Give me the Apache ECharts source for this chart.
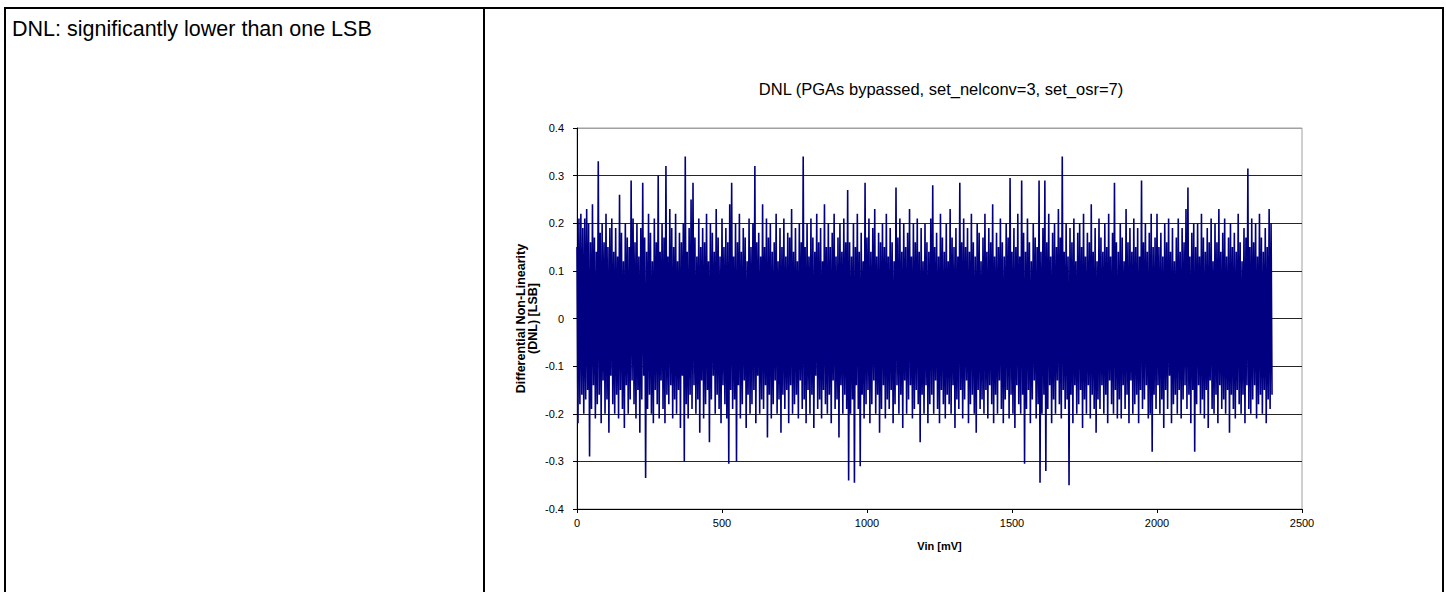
<!DOCTYPE html>
<html>
<head>
<meta charset="utf-8">
<script src="https://cdn.jsdelivr.net/npm/echarts@6/dist/echarts.min.js"></script>
<style>
  html, body { margin: 0; padding: 0; background: #fff; }
  body { width: 1446px; height: 592px; position: relative; overflow: hidden; font-family: "Liberation Sans", Arial, sans-serif; }
  #frame { position: absolute; left: 4px; top: 7px; width: 1436px; height: 600px; border: 2px solid #000; border-bottom: none; }
  #divider { position: absolute; left: 483px; top: 7px; width: 2px; height: 590px; background: #000; }
  #note { position: absolute; left: 12px; top: 19px; font-size: 21.5px; line-height: 1; color: #000; white-space: nowrap; }
  #chart { position: absolute; left: 0; top: 0; width: 1446px; height: 592px; }
</style>
</head>
<body>
<div id="frame"></div>
<div id="divider"></div>
<div id="note">DNL: significantly lower than one LSB</div>
<div id="chart"></div>
<script>
// ---- data ----
const chartTitle = "DNL (PGAs bypassed, set_nelconv=3, set_osr=7)";
const xAxisName = "Vin [mV]";
const yAxisName = "Differential Non-Linearity\n(DNL) [LSB]";
const xTicks = [0, 500, 1000, 1500, 2000, 2500];
const yTicks = [-0.4, -0.3, -0.2, -0.1, 0, 0.1, 0.2, 0.3, 0.4];
const vinStartMv = 0;
const vinEndMv = 2400;
// DNL per code in LSB, sampled evenly from vinStartMv to vinEndMv
const dnl = [
.15,-.22,.21,-.18,.22,-.16,.19,-.2,.21,-.17,.23,-.15,.2,-.29,.16,-.19,.24,-.14,.17,-.21,
.14,-.18,.33,-.16,.18,-.22,.2,-.13,.16,-.2,.22,-.17,.15,-.24,.19,-.12,.21,-.18,.14,-.2,
.19,-.16,.13,-.21,.26,-.15,.18,-.19,.12,-.23,.2,-.14,.17,-.2,.15,-.17,.29,-.13,.21,-.18,
.16,-.21,.2,-.15,.13,-.24,.19,-.17,.285,-.12,.17,-.335,.14,-.19,.22,-.16,.18,-.2,.12,-.22,
.21,-.15,.16,-.18,.3,-.21,.14,-.13,.2,-.19,.17,-.22,.32,-.16,.13,-.18,.23,-.14,.19,-.21,
.15,-.17,.22,-.2,.12,-.15,.18,-.23,.16,-.12,.2,-.3,.34,-.18,.14,-.21,.19,-.16,.25,-.19,
.285,-.14,.17,-.2,.13,-.17,.21,-.24,.15,-.13,.19,-.21,.16,-.18,.22,-.15,.12,-.26,.2,-.17,
.18,-.12,.14,-.2,.23,-.16,.17,-.19,.13,-.22,.21,-.14,.15,-.18,.19,-.21,.16,-.305,.24,-.15,
.285,-.19,.13,-.17,.2,-.3,.16,-.14,.22,-.21,.14,-.18,.19,-.13,.17,-.23,.12,-.16,.21,-.2,
.15,-.18,.2,-.15,.32,-.22,.16,-.12,.18,-.2,.13,-.17,.24,-.19,.15,-.14,.21,-.25,.17,-.16,
.2,-.21,.14,-.18,.16,-.13,.22,-.2,.12,-.17,.19,-.24,.15,-.16,.21,-.19,.13,-.15,.18,-.22,
.17,-.14,.23,-.2,.14,-.18,.19,-.16,.12,-.21,.2,-.13,.16,-.19,.34,-.17,.15,-.22,.2,-.15,
.13,-.2,.21,-.16,.17,-.23,.14,-.12,.22,-.19,.16,-.17,.19,-.21,.12,-.15,.24,-.18,.15,-.2,
.2,-.16,.15,-.22,.18,-.13,.22,-.19,.13,-.17,.17,-.25,.2,-.14,.14,-.2,.21,-.16,.16,-.19,
.27,-.34,.16,-.2,.13,-.17,.2,-.345,.15,-.14,.22,-.19,.14,-.31,.18,-.16,.12,-.21,.285,-.18,
.17,-.15,.21,-.22,.14,-.18,.19,-.13,.23,-.2,.13,-.16,.18,-.24,.16,-.19,.2,-.14,.15,-.21,
.22,-.17,.13,-.19,.19,-.15,.16,-.22,.12,-.18,.275,-.14,.17,-.2,.21,-.16,.14,-.23,.2,-.13,
.15,-.2,.18,-.17,.23,-.14,.13,-.21,.2,-.19,.16,-.15,.21,-.18,.14,-.26,.19,-.16,.12,-.2,
.2,-.14,.16,-.22,.14,-.18,.21,-.16,.28,-.2,.15,-.13,.18,-.19,.13,-.22,.22,-.15,.17,-.18,
.14,-.21,.2,-.16,.12,-.18,.23,-.2,.17,-.14,.15,-.23,.19,-.17,.13,-.19,.285,-.15,.16,-.21,
.21,-.17,.15,-.13,.19,-.22,.14,-.18,.22,-.16,.16,-.2,.13,-.24,.2,-.15,.18,-.19,.12,-.17,
.17,-.2,.22,-.15,.14,-.21,.19,-.14,.16,-.18,.24,-.22,.13,-.16,.18,-.2,.15,-.13,.21,-.19,
.16,-.22,.13,-.17,.2,-.15,.17,-.21,.295,-.16,.14,-.2,.19,-.23,.15,-.14,.22,-.18,.13,-.2,
.29,-.16,.18,-.305,.14,-.19,.21,-.15,.16,-.22,.12,-.17,.2,-.13,.17,-.21,.15,-.18,.29,-.345,
.14,-.2,.19,-.16,.29,-.32,.16,-.19,.22,-.14,.13,-.22,.18,-.17,.2,-.2,.15,-.13,.23,-.18,
.17,-.21,.34,-.15,.14,-.19,.2,-.17,.13,-.35,.19,-.16,.16,-.22,.21,-.14,.12,-.2,.18,-.18,
.2,-.15,.15,-.23,.22,-.17,.13,-.2,.18,-.14,.16,-.21,.24,-.16,.14,-.19,.19,-.24,.12,-.17,
.21,-.19,.17,-.14,.14,-.2,.2,-.16,.15,-.22,.22,-.13,.13,-.18,.18,-.2,.285,-.15,.16,-.21,
.14,-.17,.2,-.21,.17,-.14,.12,-.19,.23,-.16,.16,-.22,.19,-.13,.14,-.2,.21,-.18,.15,-.16,
.19,-.22,.13,-.15,.29,-.19,.16,-.17,.2,-.14,.14,-.21,.18,-.2,.22,-.28,.15,-.16,.17,-.19,
.22,-.14,.15,-.2,.18,-.17,.13,-.23,.2,-.15,.16,-.19,.21,-.12,.14,-.22,.19,-.18,.12,-.16,
.17,-.2,.21,-.15,.14,-.21,.19,-.17,.16,-.14,.23,-.19,.275,-.16,.13,-.22,.18,-.15,.2,-.28,
.15,-.18,.2,-.14,.13,-.2,.22,-.17,.17,-.21,.14,-.15,.19,-.23,.16,-.13,.21,-.19,.12,-.2,
.2,-.16,.16,-.22,.23,-.14,.14,-.19,.18,-.17,.21,-.2,.13,-.15,.17,-.24,.2,-.16,.15,-.19,
.18,-.21,.14,-.15,.22,-.18,.16,-.2,.12,-.16,.19,-.22,.17,-.14,.315,-.19,.15,-.2,.21,-.17,
.16,-.14,.2,-.21,.13,-.18,.22,-.16,.17,-.2,.14,-.15,.19,-.22,.15,-.17,.23,-.19,.2,-.16
];

// ---- build ----
const vinStep = (vinEndMv - vinStartMv) / dnl.length;
const seriesData = dnl.map((v, i) => [vinStartMv + i * vinStep, v]);

const gridColors = yTicks.map((t, i) => i === yTicks.length - 1 ? '#a0a0a0' : '#262626');
const fontFamily = 'Liberation Sans, Arial, sans-serif';

const chart = echarts.init(document.getElementById('chart'), null, { renderer: 'svg' });
chart.setOption({
  animation: false,
  backgroundColor: 'transparent',
  title: {
    text: chartTitle,
    left: 941,
    top: 80,
    textAlign: 'center',
    padding: 0,
    textStyle: { fontFamily, fontSize: 16.5, fontWeight: 'normal', color: '#000' }
  },
  grid: {
    left: 577, right: 144, top: 128, bottom: 83,
    show: true, borderColor: '#a0a0a0', borderWidth: 1, backgroundColor: 'transparent'
  },
  xAxis: {
    type: 'value',
    min: xTicks[0], max: xTicks[xTicks.length - 1], interval: xTicks[1] - xTicks[0],
    name: xAxisName, nameLocation: 'middle', nameGap: 31, nameMoveOverlap: false,
    nameTextStyle: { fontFamily, fontSize: 11, fontWeight: 'bold', color: '#000' },
    axisLine: { show: true, onZero: false, lineStyle: { color: '#000', width: 1 } },
    axisTick: { show: true, inside: false, length: 4, lineStyle: { color: '#000' } },
    axisLabel: { fontFamily, fontSize: 11, color: '#000', margin: 8, formatter: v => String(v) },
    splitLine: { show: false }
  },
  yAxis: {
    type: 'value',
    min: yTicks[0], max: yTicks[yTicks.length - 1], interval: 0.1,
    name: yAxisName, nameLocation: 'middle', nameGap: 38, nameRotate: 90, nameMoveOverlap: false,
    nameTextStyle: { fontFamily, fontSize: 12.5, fontWeight: 'bold', color: '#000', lineHeight: 12, align: 'center' },
    axisLine: { show: true, onZero: false, lineStyle: { color: '#000', width: 1 } },
    axisTick: { show: true, inside: false, length: 4, lineStyle: { color: '#000' } },
    axisLabel: { fontFamily, fontSize: 11, color: '#000', margin: 13,
      formatter: v => String(Math.round(v * 10) / 10) },
    splitLine: { show: true, lineStyle: { color: gridColors, width: 1 } }
  },
  series: [{
    type: 'line',
    data: seriesData,
    showSymbol: false,
    symbol: 'none',
    lineStyle: { color: '#000080', width: 1.6 },
    z: 1
  }]
});
</script>
</body>
</html>
